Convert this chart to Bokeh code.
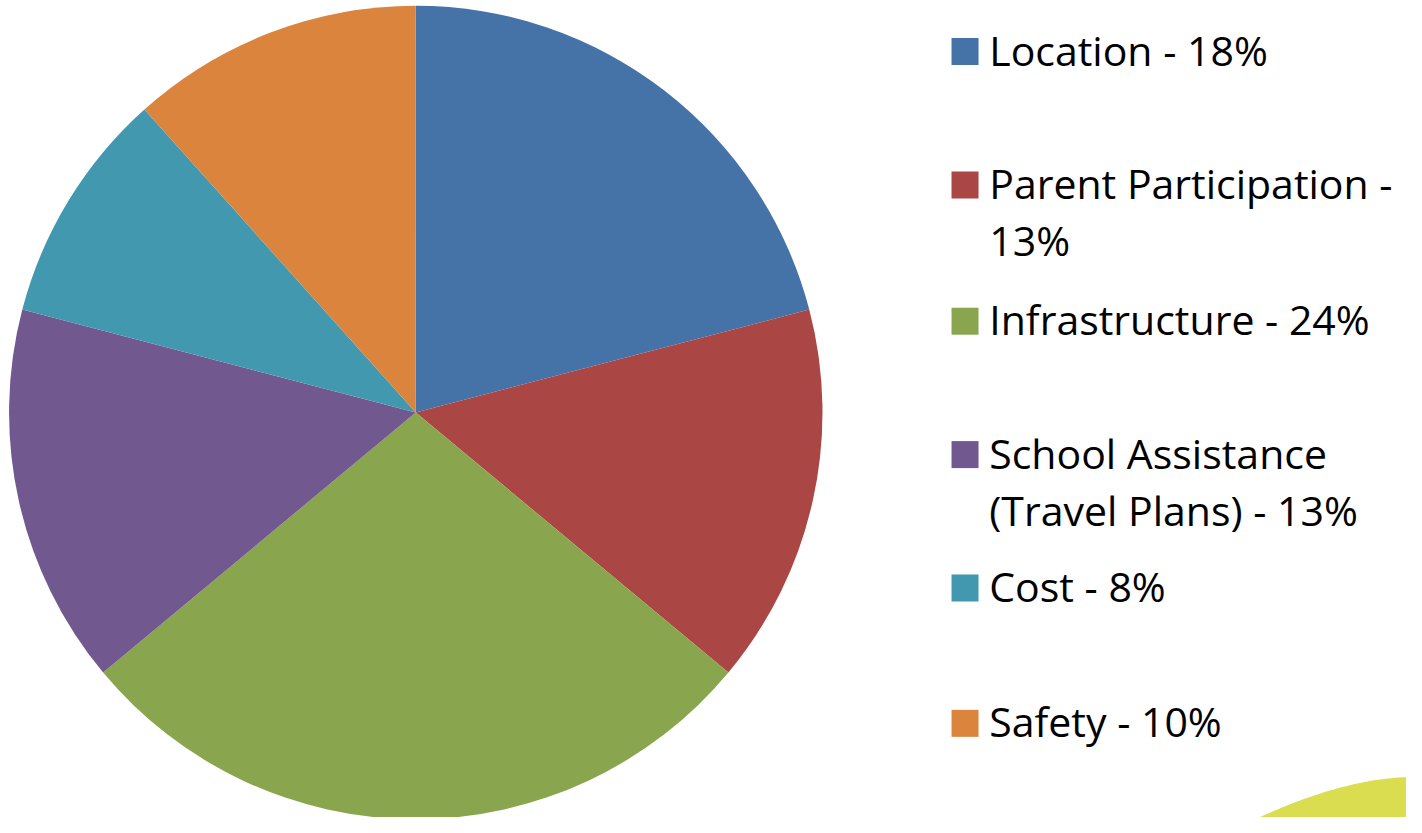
import numpy as np
from bokeh.plotting import figure
from bokeh.models import Range1d
from bokeh.core.properties import value
from bokeh.embed import file_html
from bokeh.resources import INLINE

# ---- data ----
categories = ["Location", "Parent Participation", "Infrastructure",
              "School Assistance (Travel Plans)", "Cost", "Safety"]
percents = [18, 13, 24, 13, 8, 10]
colors = ["#4572A7", "#AA4643", "#89A54E", "#71588F", "#4198AF", "#DB843D"]
legend_lines = [
    ["Location - 18%"],
    ["Parent Participation -", "13%"],
    ["Infrastructure - 24%"],
    ["School Assistance", "(Travel Plans) - 13%"],
    ["Cost - 8%"],
    ["Safety - 10%"],
]

# ---- layout (reference-image pixels, mapped into the figure) ----
W, H = 1406, 817
SX, SY = W / 1422.0, H / 833.0
def X(ix):
    return ix * SX
def Y(iy):
    return H - iy * SY

pie_cx, pie_cy, pie_r = 420, 420, 413
legend_row_y = [52, 188, 327, 463, 599, 737]   # square centres
FONT = "Open Sans"
FONT_SIZE = 41
LINE_H = 58
BASELINE_SHIFT = -2   # text anchor relative to square centre

p = figure(width=W, height=H, output_backend="svg", toolbar_location=None,
           x_range=Range1d(0, W), y_range=Range1d(0, H), min_border=0,
           background_fill_color="white", border_fill_color="white")
p.axis.visible = False
p.grid.visible = False
p.outline_line_color = None

vals = np.array(percents, dtype=float)
frac = vals / vals.sum()
cum = np.concatenate([[0], np.cumsum(frac)])
start = np.pi / 2 - cum[:-1] * 2 * np.pi
end = np.pi / 2 - cum[1:] * 2 * np.pi
p.wedge(x=X(pie_cx), y=Y(pie_cy), radius=pie_r * (SX + SY) / 2,
        start_angle=start, end_angle=end,
        direction="clock", fill_color=colors, line_color=None)

# decorative swoosh at bottom-right
t = np.linspace(0, 1, 40)
ix = 1273 + t * (1422 - 1273)
iy = 833 - 41 * (1 - (1 - t) ** 1.7)
p.patch(x=np.concatenate([X(ix), [X(1422), X(1273)]]),
        y=np.concatenate([Y(iy), [Y(833), Y(833)]]),
        fill_color="#D9DD4F", line_color=None)

# legend
p.rect(x=[X(975.5)] * len(colors), y=[Y(v) for v in legend_row_y],
       width=27, height=27, fill_color=colors, line_color=None)

tx, ty, tt = [], [], []
for row_y, lines in zip(legend_row_y, legend_lines):
    for k, line in enumerate(lines):
        tx.append(X(1000))
        ty.append(Y(row_y + BASELINE_SHIFT + k * LINE_H))
        tt.append(line)
p.text(x=tx, y=ty, text=tt, text_font=value(FONT),
       text_font_size=value(f"{FONT_SIZE}px"), text_color="black",
       text_align="left", text_baseline="alphabetic")

open("out.html", "w").write(file_html(p, INLINE))
